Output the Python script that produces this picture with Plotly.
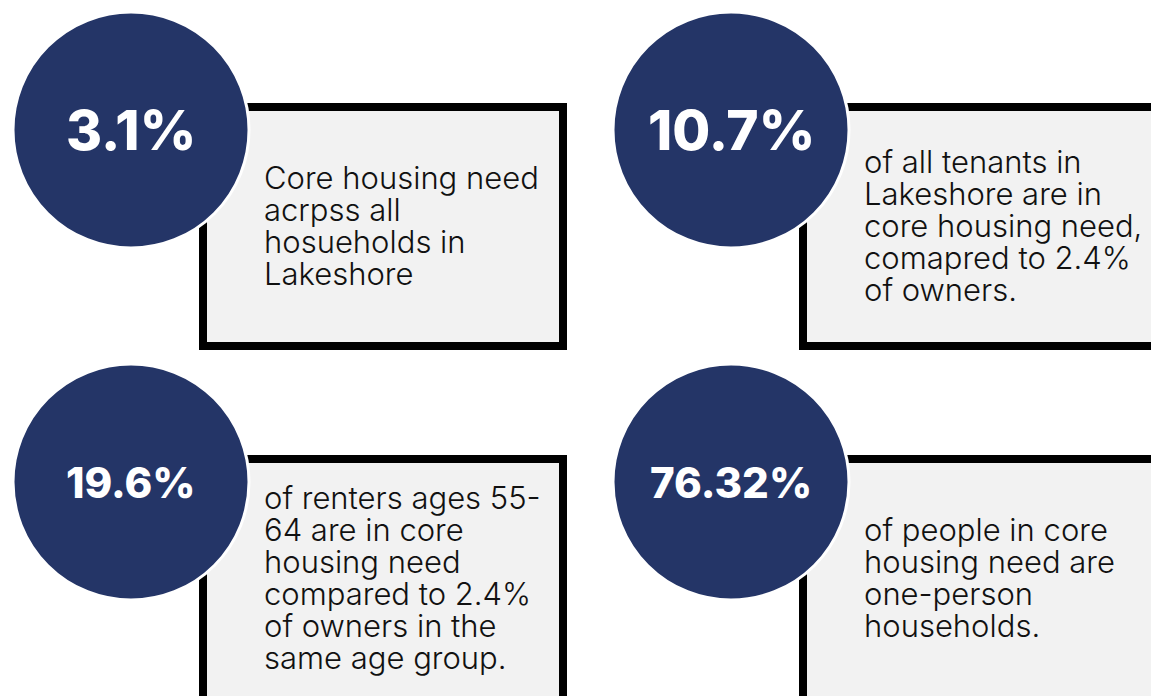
import plotly.graph_objects as go

# Data
stat_values = ["3.1%", "10.7%", "19.6%", "76.32%"]
stat_lines = [
    ["Core housing need", "acrpss all", "hosueholds in", "Lakeshore"],
    ["of all tenants in", "Lakeshore are in", "core housing need,",
     "comapred to 2.4%", "of owners."],
    ["of renters ages 55-", "64 are in core", "housing need",
     "compared to 2.4%", "of owners in the", "same age group."],
    ["of people in core", "housing need are", "one-person", "households."],
]

# Layout / style
W, H = 1151, 696
NAVY = "#243567"
BOX_FILL = "#f2f2f2"
COL_STEP, ROW_STEP = 600, 352
CIRCLE_C, CIRCLE_R = (131, 130), 118
BOX = (203, 107, 563, 346)      # x0, y0, x1, y1 (line centres)
TEXT_X = 262
LINE_GAP = 32
NUM_SIZE = [55, 55, 42, 42]
BODY_FONT = "Inter"

fig = go.Figure()
shapes = []
annotations = []

for i, (value, lines) in enumerate(zip(stat_values, stat_lines)):
    col, row = i % 2, i // 2
    dx, dy = col * COL_STEP, row * ROW_STEP
    bx0, by0, bx1, by1 = BOX
    # box runs off the canvas for the right column / bottom row
    x1 = bx1 + dx if col == 0 else W + 20
    y1 = by1 + dy if row == 0 else by1 + dy + 5
    shapes.append(dict(
        type="rect", x0=bx0 + dx, y0=by0 + dy, x1=x1, y1=y1,
        line=dict(color="black", width=8), fillcolor=BOX_FILL, layer="above",
    ))
    cx, cy = CIRCLE_C[0] + dx, CIRCLE_C[1] + dy
    shapes.append(dict(
        type="circle", x0=cx - CIRCLE_R, y0=cy - CIRCLE_R,
        x1=cx + CIRCLE_R, y1=cy + CIRCLE_R,
        line=dict(color="white", width=3), fillcolor=NAVY, layer="above",
    ))
    annotations.append(dict(
        x=cx, y=cy, text=value, showarrow=False,
        xanchor="center", yanchor="middle",
        font=dict(family=BODY_FONT, size=NUM_SIZE[i], color="white", weight=800),
    ))
    # description lines, centred vertically in the box
    mid = (by0 + by1) / 2 + dy - 1
    n = len(lines)
    for j, line in enumerate(lines):
        annotations.append(dict(
            x=TEXT_X + dx, y=mid + (j - (n - 1) / 2) * LINE_GAP,
            text=line, showarrow=False, xanchor="left", yanchor="middle",
            font=dict(family=BODY_FONT, size=31, color="#111111", weight=300),
        ))

fig.update_layout(
    width=W, height=H,
    margin=dict(l=0, r=0, t=0, b=0),
    paper_bgcolor="white", plot_bgcolor="white",
    xaxis=dict(range=[0, W], visible=False, fixedrange=True),
    yaxis=dict(range=[H, 0], visible=False, fixedrange=True),
    shapes=shapes, annotations=annotations,
    showlegend=False,
)

fig.write_html(
    "out.html",
    config={"displayModeBar": False},
    post_script="document.body.style.margin='0';",
)
